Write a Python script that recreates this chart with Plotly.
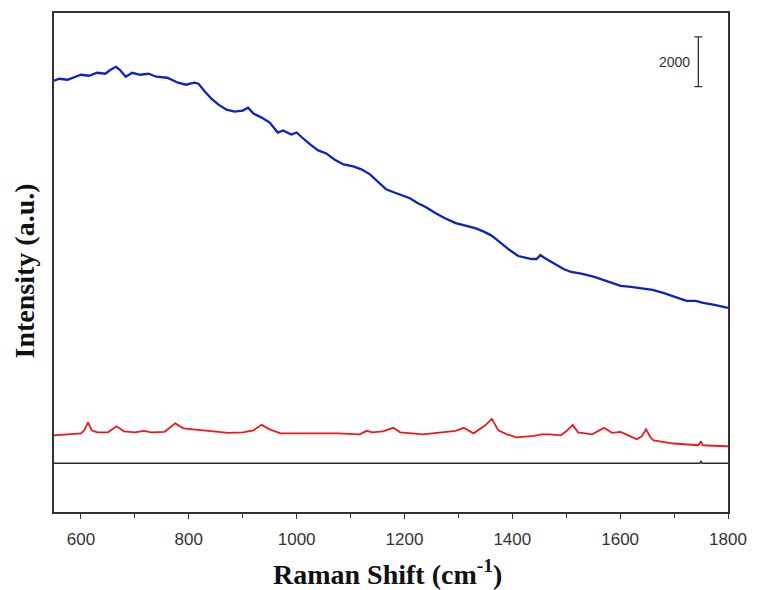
import plotly.graph_objects as go

# Blue spectrum (Raman shift, intensity)
blue_x = [550, 560, 575, 590, 600, 615, 630, 645, 655, 665, 672, 683, 695, 710, 725, 740, 760, 780, 795, 810,
          818, 830, 842, 855, 870, 885, 900, 910, 920, 935, 950, 965, 975, 990, 1000, 1010, 1025, 1040, 1055, 1070,
          1087, 1105, 1120, 1136, 1150, 1166, 1180, 1195, 1210, 1225, 1240, 1258, 1275, 1295, 1315, 1331, 1345, 1360,
          1370, 1381, 1395, 1411, 1425, 1436, 1445, 1452, 1460, 1478, 1495, 1509, 1530, 1552, 1575, 1601, 1620, 1637,
          1660, 1680, 1700, 1723, 1740, 1754, 1775, 1800]
blue_y = [15360, 15440, 15400, 15520, 15600, 15560, 15680, 15640, 15800, 15920, 15800, 15520, 15680, 15600, 15640,
          15520, 15480, 15280, 15200, 15280, 15240, 14920, 14640, 14400, 14200, 14120, 14160, 14280, 14040, 13880,
          13680, 13280, 13360, 13200, 13280, 13080, 12800, 12560, 12440, 12200, 12000, 11920, 11800, 11600, 11320,
          11000, 10880, 10760, 10640, 10440, 10280, 10040, 9840, 9640, 9520, 9440, 9320, 9160, 9000, 8800, 8560,
          8320, 8240, 8200, 8200, 8360, 8240, 8000, 7800, 7680, 7600, 7480, 7320, 7120, 7080, 7040, 6960, 6840,
          6680, 6520, 6520, 6440, 6360, 6240]

# Red spectrum
red_x = [550, 580, 600, 606, 613, 620, 630, 650, 666, 680, 700, 717, 730, 755, 775, 790, 810, 840, 873, 900,
         920, 935, 950, 970, 1000, 1040, 1075, 1117, 1130, 1140, 1160, 1179, 1192, 1234, 1270, 1295, 1310, 1328,
         1350, 1362, 1374, 1390, 1408, 1440, 1455, 1470, 1490, 1500, 1512, 1522, 1548, 1570, 1585, 1601, 1615,
         1631, 1640, 1648, 1656, 1662, 1699, 1745, 1750, 1753, 1796, 1800]
red_y = [1120, 1160, 1200, 1320, 1640, 1320, 1240, 1240, 1480, 1280, 1240, 1300, 1240, 1260, 1600, 1400, 1360,
         1300, 1220, 1240, 1320, 1540, 1360, 1200, 1200, 1200, 1200, 1160, 1300, 1240, 1280, 1420, 1240, 1160,
         1240, 1300, 1420, 1200, 1520, 1780, 1320, 1160, 1040, 1100, 1160, 1160, 1120, 1280, 1540, 1240, 1160,
         1420, 1220, 1260, 1120, 960, 1080, 1360, 1040, 920, 790, 720, 880, 720, 680, 680]

# Black spectrum (blank)
black_x = [550, 700, 900, 1100, 1300, 1500, 1700, 1748, 1750, 1752, 1800]
black_y = [0, 0, 0, 0, 0, 0, 0, 0, 70, 0, 0]

# Scale bar
bar_x = [1745]
bar_center = [16120]
bar_half = [1000]
bar_label = "2000"

x_range = [550, 1800]
y_range = [-1960, 18080]
x_ticks = [600, 800, 1000, 1200, 1400, 1600, 1800]
x_title = "<b>Raman Shift (cm<sup>-1</sup>)</b>"
y_title = "<b>Intensity (a.u.)</b>"

fig = go.Figure()
fig.add_trace(go.Scatter(x=black_x, y=black_y, mode="lines",
                         line=dict(color="#2a2a2a", width=1.5), hoverinfo="skip"))
fig.add_trace(go.Scatter(x=red_x, y=red_y, mode="lines",
                         line=dict(color="#f01818", width=1.8), hoverinfo="skip"))
fig.add_trace(go.Scatter(x=blue_x, y=blue_y, mode="lines",
                         line=dict(color="#0c24bd", width=2.3), hoverinfo="skip"))
fig.add_trace(go.Scatter(x=bar_x, y=bar_center, mode="markers",
                         marker=dict(size=0.1, color="rgba(0,0,0,0)"),
                         error_y=dict(type="data", array=bar_half, symmetric=True,
                                      color="#333333", thickness=1.3, width=4),
                         hoverinfo="skip"))
fig.add_annotation(x=bar_x[0], y=bar_center[0], text=bar_label, showarrow=False,
                   xanchor="right", xshift=-6,
                   font=dict(family="Liberation Sans, Arial, sans-serif", size=14, color="#333333"))

title_font = dict(family="Liberation Serif, Times New Roman, serif", size=28, color="#111111")
fig.add_annotation(xref="paper", yref="paper", x=0.5, y=0, yshift=-60, xshift=-4,
                   xanchor="center", yanchor="middle", text=x_title, showarrow=False, font=title_font)
fig.add_annotation(xref="paper", yref="paper", x=0, y=0.482, xshift=-30,
                   xanchor="center", yanchor="middle", textangle=-90,
                   text=y_title, showarrow=False, font=title_font)

axis_common = dict(showline=True, linecolor="#333333", linewidth=1.5, mirror=True,
                   showgrid=False, zeroline=False)
fig.update_xaxes(range=x_range, tickvals=x_ticks, ticks="outside", ticklen=5, tickwidth=1.3,
                 tickcolor="#333333", ticklabelstandoff=6,
                 minor=dict(dtick=100, ticks="outside", ticklen=4, tickwidth=1.3, tickcolor="#333333"),
                 tickfont=dict(family="Liberation Sans, Arial, sans-serif", size=17, color="#333333"),
                 **axis_common)
fig.update_yaxes(range=y_range, showticklabels=False, ticks="", **axis_common)
fig.update_layout(width=758, height=590, showlegend=False,
                  margin=dict(l=54, r=22, t=11, b=78),
                  plot_bgcolor="white", paper_bgcolor="white")
fig.write_html("out.html")
